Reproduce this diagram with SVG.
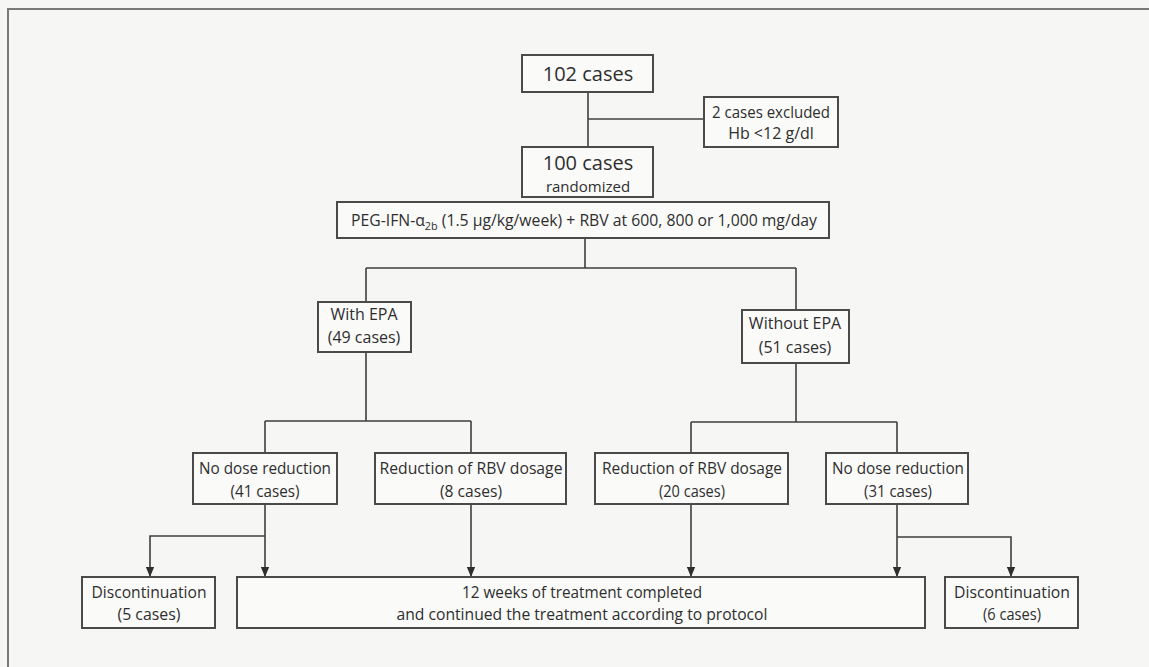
<svg xmlns="http://www.w3.org/2000/svg" width="1149" height="667" viewBox="0 0 1149 667">
<style>
.bg{fill:#f6f6f4}
.box{fill:#fafaf9;stroke:#4a4a4a;stroke-width:2}
.frame{stroke:#7a7a7a;stroke-width:2;fill:none}
.c{fill:none;stroke:#3f3f3f;stroke-width:1.6}
text{font-family:"Open Sans","Noto Sans","Liberation Sans",sans-serif;fill:#2e2e2e;text-anchor:middle}
.t20{font-size:20px}
.t16{font-size:16px}
.t17{font-size:17px}
.t15{font-size:15px}
</style>
<defs>
<marker id="ah" markerWidth="10" markerHeight="12" refX="12" refY="5" orient="auto" markerUnits="userSpaceOnUse" viewBox="0 0 12 10">
<path d="M0,0 L12,5 L0,10 Z" fill="#2f2f2f"/>
</marker>
</defs>
<rect class="bg" x="0" y="0" width="1149" height="667"/>
<path class="frame" d="M8,667 L8,9 L1149,9"/>

<g id="connectors">
<path class="c" d="M588,92 L588,147"/>
<path class="c" d="M588,119 L704,119"/>
<path class="c" d="M585,238 L585,268 M366,268 L796,268 M366,268 L366,302 M796,268 L796,310"/>
<path class="c" d="M366,352 L366,421 M265,421 L471,421 M265,421 L265,453 M471,421 L471,453"/>
<path class="c" d="M796,363 L796,422 M691,422 L897,422 M691,422 L691,453 M897,422 L897,453"/>
<path class="c" d="M265,504 L265,577" marker-end="url(#ah)"/>
<path class="c" d="M265,536 L150,536 L150,577" marker-end="url(#ah)"/>
<path class="c" d="M471,504 L471,577" marker-end="url(#ah)"/>
<path class="c" d="M691,504 L691,577" marker-end="url(#ah)"/>
<path class="c" d="M897,504 L897,577" marker-end="url(#ah)"/>
<path class="c" d="M897,537 L1011,537 L1011,577" marker-end="url(#ah)"/>
</g>

<g id="n102">
<rect class="box" x="522" y="55" width="131" height="37"/>
<text class="t20" x="588" y="81">102 cases</text>
</g>
<g id="excluded">
<rect class="box" x="704" y="97" width="134" height="50"/>
<text class="t16" x="771" y="118" textLength="118" lengthAdjust="spacingAndGlyphs">2 cases excluded</text>
<text class="t16" x="771" y="139">Hb &lt;12 g/dl</text>
</g>
<g id="n100">
<rect class="box" x="522" y="147" width="131" height="50"/>
<text class="t20" x="588" y="170">100 cases</text>
<text class="t15" x="588" y="192">randomized</text>
</g>
<g id="peg">
<rect class="box" x="337" y="202" width="492" height="36"/>
<text class="t16" x="584" y="226" textLength="466" lengthAdjust="spacingAndGlyphs">PEG-IFN-α<tspan font-size="11" dy="4">2b</tspan><tspan dy="-4"> (1.5 µg/kg/week) + RBV at 600, 800 or 1,000 mg/day</tspan></text>
</g>
<g id="withEPA">
<rect class="box" x="318" y="302" width="93" height="50"/>
<text class="t16" x="364" y="320">With EPA</text>
<text class="t16" x="364" y="343">(49 cases)</text>
</g>
<g id="withoutEPA">
<rect class="box" x="742" y="310" width="107" height="53"/>
<text class="t16" x="795" y="329">Without EPA</text>
<text class="t16" x="795" y="353">(51 cases)</text>
</g>
<g id="noDose41">
<rect class="box" x="193" y="453" width="144" height="51"/>
<text class="t17" x="265" y="474" textLength="132" lengthAdjust="spacingAndGlyphs">No dose reduction</text>
<text class="t17" x="265" y="497" textLength="69" lengthAdjust="spacingAndGlyphs">(41 cases)</text>
</g>
<g id="redRBV8">
<rect class="box" x="375" y="453" width="191" height="51"/>
<text class="t17" x="471" y="474" textLength="183" lengthAdjust="spacingAndGlyphs">Reduction of RBV dosage</text>
<text class="t17" x="471" y="497" textLength="62" lengthAdjust="spacingAndGlyphs">(8 cases)</text>
</g>
<g id="redRBV20">
<rect class="box" x="595" y="453" width="193" height="51"/>
<text class="t17" x="692" y="474" textLength="180" lengthAdjust="spacingAndGlyphs">Reduction of RBV dosage</text>
<text class="t17" x="692" y="497" textLength="66" lengthAdjust="spacingAndGlyphs">(20 cases)</text>
</g>
<g id="noDose31">
<rect class="box" x="826" y="453" width="142" height="51"/>
<text class="t17" x="898" y="474" textLength="132" lengthAdjust="spacingAndGlyphs">No dose reduction</text>
<text class="t17" x="898" y="497" textLength="68" lengthAdjust="spacingAndGlyphs">(31 cases)</text>
</g>
<g id="disc5">
<rect class="box" x="82" y="577" width="133" height="51"/>
<text class="t17" x="149" y="598" textLength="115" lengthAdjust="spacingAndGlyphs">Discontinuation</text>
<text class="t17" x="149" y="620" textLength="63" lengthAdjust="spacingAndGlyphs">(5 cases)</text>
</g>
<g id="completed">
<rect class="box" x="237" y="577" width="688" height="51"/>
<text class="t17" x="582" y="598" textLength="240" lengthAdjust="spacingAndGlyphs">12 weeks of treatment completed</text>
<text class="t17" x="582" y="620" textLength="371" lengthAdjust="spacingAndGlyphs">and continued the treatment according to protocol</text>
</g>
<g id="disc6">
<rect class="box" x="945" y="577" width="133" height="51"/>
<text class="t17" x="1012" y="598" textLength="116" lengthAdjust="spacingAndGlyphs">Discontinuation</text>
<text class="t17" x="1012" y="620" textLength="58" lengthAdjust="spacingAndGlyphs">(6 cases)</text>
</g>
</svg>
